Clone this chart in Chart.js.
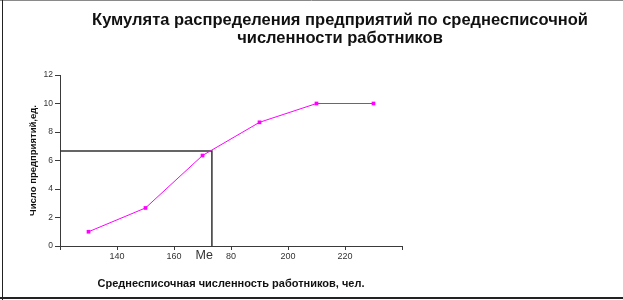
<!DOCTYPE html>
<html>
<head>
<meta charset="utf-8">
<script src="https://cdn.jsdelivr.net/npm/chart.js@4/dist/chart.umd.min.js"></script>
<style>
  html, body { margin: 0; padding: 0; background: #fff; }
  #wrap { width: 623px; height: 300px; position: relative; }
  canvas { display: block; }
</style>
</head>
<body>
<div id="wrap"><canvas id="c" width="623" height="300"></canvas></div>
<script>
// ---- data ----
const titleLines = ['Кумулята распределения предприятий по среднесписочной', 'численности работников'];
const xAxisTitle = 'Среднесписочная численность работников, чел.';
const yAxisTitle = 'Число предприятий,ед.';
const xValues = [130, 150, 170, 190, 210, 230];
const cumulative = [1, 2.67, 6.35, 8.68, 10, 10];
const medianX = 173.3;
const medianY = 6.67;
const medianLabel = 'Me';
const xTickValues = [120, 140, 160, 180, 200, 220, 240];
const xTickLabels = ['', '140', '160', '80', '200', '220', ''];
const yTickValues = [0, 2, 4, 6, 8, 10, 12];

const FONT = '"Liberation Sans", Arial, sans-serif';
const AXIS = '#3a3a3a';

const decor = {
  id: 'decor',
  afterDraw(chart) {
    const ctx = chart.ctx;
    const xs = chart.scales.x, ys = chart.scales.y;
    ctx.save();
    // title
    ctx.fillStyle = '#111';
    ctx.font = 'bold 16.5px ' + FONT;
    ctx.textAlign = 'center';
    ctx.textBaseline = 'middle';
    ctx.fillText(titleLines[0], 340, 20);
    ctx.fillText(titleLines[1], 340, 38);
    // Me label
    ctx.font = '12.5px ' + FONT;
    ctx.fillStyle = '#333';
    ctx.textAlign = 'right';
    ctx.fillText(medianLabel, xs.getPixelForValue(medianX) + 1, ys.getPixelForValue(0) + 10);
    // frame
    ctx.strokeStyle = '#8a8a8a';
    ctx.lineWidth = 1;
    ctx.beginPath(); ctx.moveTo(0, 0.5); ctx.lineTo(623, 0.5); ctx.stroke();
    ctx.strokeStyle = '#222';
    ctx.beginPath(); ctx.moveTo(2.5, 0); ctx.lineTo(2.5, 300); ctx.stroke();
    ctx.lineWidth = 2;
    ctx.beginPath(); ctx.moveTo(0, 298); ctx.lineTo(623, 298); ctx.stroke();
    ctx.restore();
  }
};

new Chart(document.getElementById('c'), {
  type: 'scatter',
  data: {
    datasets: [
      {
        data: xValues.map((x, i) => ({ x: x, y: cumulative[i] })),
        showLine: true,
        borderColor: '#ff00ff',
        backgroundColor: '#ff00ff',
        borderWidth: 1,
        pointStyle: 'rect',
        pointRadius: 2.6,
        pointBorderWidth: 0,
        tension: 0
      },
      {
        data: [{ x: xTickValues[0], y: medianY }, { x: medianX, y: medianY }, { x: medianX, y: 0 }],
        showLine: true,
        borderColor: '#333',
        borderWidth: 1.5,
        pointRadius: 0,
        tension: 0
      }
    ]
  },
  options: {
    responsive: false,
    animation: false,
    events: [],
    layout: { padding: { left: 28, top: 75, right: 221, bottom: 0 } },
    plugins: { legend: { display: false }, tooltip: { enabled: false }, title: { display: false } },
    scales: {
      x: {
        type: 'linear',
        min: xTickValues[0],
        max: xTickValues[xTickValues.length - 1],
        afterBuildTicks: (s) => { s.ticks = xTickValues.map(v => ({ value: v })); },
        afterFit: (s) => { s.height = 54; },
        border: { color: AXIS, width: 1 },
        grid: { drawOnChartArea: false, drawTicks: true, tickLength: 4, tickColor: AXIS },
        ticks: {
          color: '#333',
          padding: 1,
          maxRotation: 0,
          autoSkip: false,
          font: { family: FONT, size: 9 },
          callback: (v) => { const i = xTickValues.indexOf(v); return i >= 0 ? xTickLabels[i] : ''; }
        },
        title: {
          display: true,
          text: xAxisTitle,
          color: '#111',
          font: { family: FONT, size: 11, weight: 'bold' },
          padding: { top: 0, bottom: 9 }
        }
      },
      y: {
        type: 'linear',
        min: yTickValues[0],
        max: yTickValues[yTickValues.length - 1],
        afterBuildTicks: (s) => { s.ticks = yTickValues.map(v => ({ value: v })); },
        afterFit: (s) => { s.width = 32; },
        border: { color: AXIS, width: 1 },
        grid: { drawOnChartArea: false, drawTicks: true, tickLength: 5, tickColor: AXIS },
        ticks: {
          color: '#333',
          padding: 2,
          font: { family: FONT, size: 8.5 }
        },
        title: {
          display: true,
          text: yAxisTitle,
          color: '#111',
          font: { family: FONT, size: 9.5, weight: 'bold' },
          padding: { top: 0, bottom: 0 }
        }
      }
    }
  },
  plugins: [decor]
});
</script>
</body>
</html>
